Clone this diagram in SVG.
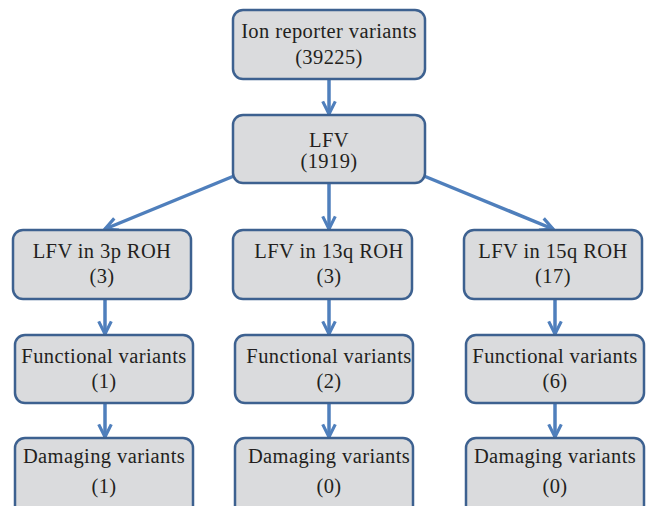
<svg xmlns="http://www.w3.org/2000/svg" width="646" height="506" viewBox="0 0 646 506">
<style>
.box{fill:#dadbdd;stroke:#3d6190;stroke-width:2.5}
.t{font-family:"Liberation Serif",serif;font-size:20.5px;letter-spacing:0.4px;fill:#231f20;text-anchor:middle}
.c{stroke:#4f7fbc;stroke-width:3.5;fill:none}
</style>
<defs>
<marker id="ah" viewBox="0 0 10 10" refX="9" refY="5" markerWidth="4.5" markerHeight="4.5" orient="auto" markerUnits="strokeWidth">
<path d="M1,1 L9,5 L1,9" fill="none" stroke="#4f7fbc" stroke-width="2"/>
</marker>
</defs>
<rect width="646" height="506" fill="#fff"/>
<g id="connectors">
<line class="c" x1="329" y1="80" x2="329" y2="114" marker-end="url(#ah)"/>
<line class="c" x1="234" y1="176" x2="105" y2="229" marker-end="url(#ah)"/>
<line class="c" x1="329" y1="184" x2="329" y2="229" marker-end="url(#ah)"/>
<line class="c" x1="424" y1="176" x2="553" y2="229" marker-end="url(#ah)"/>
<line class="c" x1="105" y1="300" x2="105" y2="334" marker-end="url(#ah)"/>
<line class="c" x1="329" y1="300" x2="329" y2="334" marker-end="url(#ah)"/>
<line class="c" x1="555" y1="300" x2="555" y2="334" marker-end="url(#ah)"/>
<line class="c" x1="105" y1="404" x2="105" y2="437" marker-end="url(#ah)"/>
<line class="c" x1="329" y1="404" x2="329" y2="437" marker-end="url(#ah)"/>
<line class="c" x1="555" y1="404" x2="555" y2="437" marker-end="url(#ah)"/>
</g>
<g id="ion"><rect class="box" x="233" y="10" width="192" height="69" rx="10"/>
<text class="t" x="329" y="38">Ion reporter variants</text><text class="t" x="329" y="64">(39225)</text></g>
<g id="lfv"><rect class="box" x="233" y="115" width="192" height="68" rx="10"/>
<text class="t" x="329" y="147">LFV</text><text class="t" x="329" y="168">(1919)</text></g>
<g id="lfv3p"><rect class="box" x="13" y="230" width="178" height="69" rx="10"/>
<text class="t" x="102" y="258">LFV in 3p ROH</text><text class="t" x="102" y="283">(3)</text></g>
<g id="lfv13q"><rect class="box" x="233" y="230" width="179" height="69" rx="10"/>
<text class="t" x="329" y="258">LFV in 13q ROH</text><text class="t" x="329" y="283">(3)</text></g>
<g id="lfv15q"><rect class="box" x="464" y="230" width="178" height="69" rx="10"/>
<text class="t" x="553" y="258">LFV in 15q ROH</text><text class="t" x="553" y="283">(17)</text></g>
<g id="func1"><rect class="box" x="15" y="335" width="178" height="68" rx="10"/>
<text class="t" x="104" y="363">Functional variants</text><text class="t" x="104" y="388">(1)</text></g>
<g id="func2"><rect class="box" x="235" y="335" width="178" height="68" rx="10"/>
<text class="t" x="329" y="363">Functional variants</text><text class="t" x="329" y="388">(2)</text></g>
<g id="func3"><rect class="box" x="466" y="335" width="178" height="68" rx="10"/>
<text class="t" x="555" y="363">Functional variants</text><text class="t" x="555" y="388">(6)</text></g>
<g id="dam1"><rect class="box" x="15" y="438" width="178" height="80" rx="10"/>
<text class="t" x="104" y="463">Damaging variants</text><text class="t" x="104" y="493">(1)</text></g>
<g id="dam2"><rect class="box" x="235" y="438" width="178" height="80" rx="10"/>
<text class="t" x="329" y="463">Damaging variants</text><text class="t" x="329" y="493">(0)</text></g>
<g id="dam3"><rect class="box" x="466" y="438" width="178" height="80" rx="10"/>
<text class="t" x="555" y="463">Damaging variants</text><text class="t" x="555" y="493">(0)</text></g>
</svg>
